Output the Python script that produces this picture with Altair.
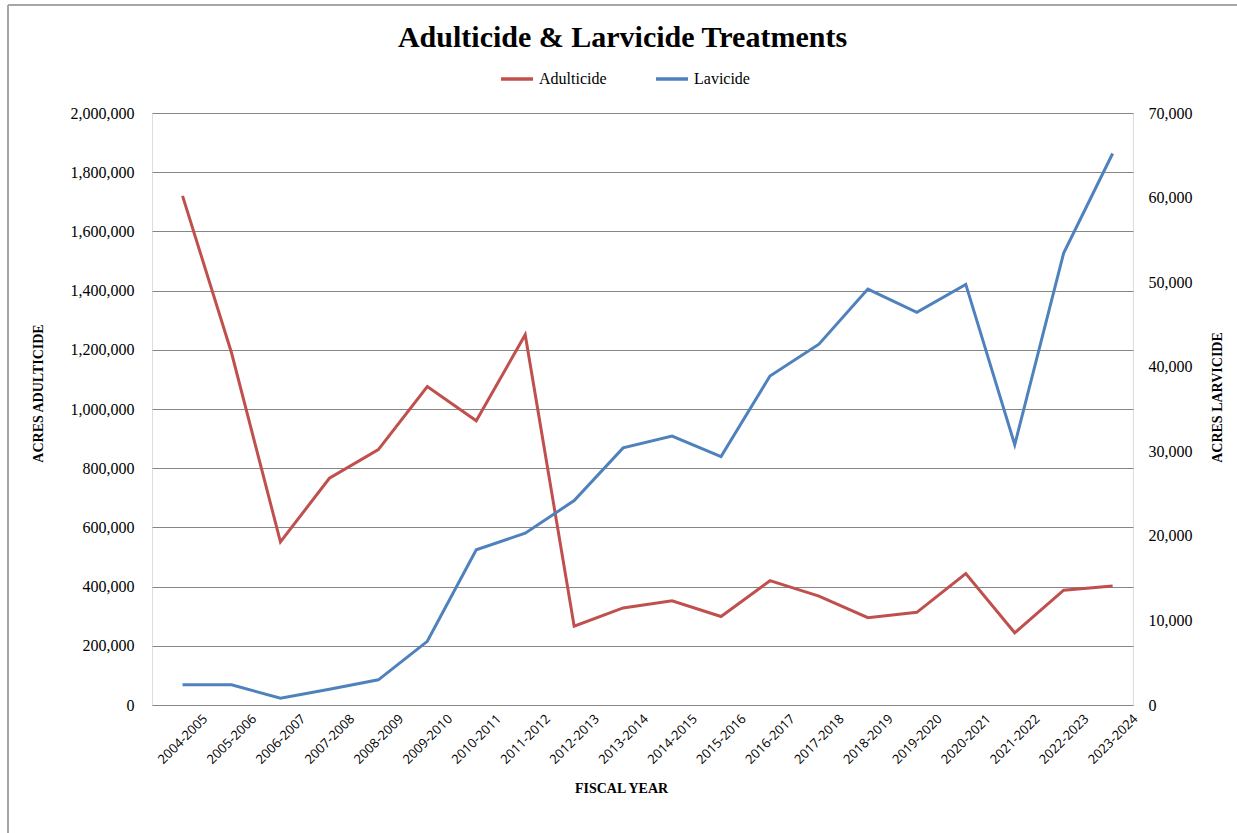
import altair as alt
import pandas as pd

# Fiscal years on the category axis
years = [
    "2004-2005", "2005-2006", "2006-2007", "2007-2008", "2008-2009",
    "2009-2010", "2010-2011", "2011-2012", "2012-2013", "2013-2014",
    "2014-2015", "2015-2016", "2016-2017", "2017-2018", "2018-2019",
    "2019-2020", "2020-2021", "2021-2022", "2022-2023", "2023-2024",
]

# Acres treated with adulticide (left axis)
adulticide = [
    1720000, 1190000, 551000, 766000, 863000,
    1076000, 960000, 1251000, 266000, 328000,
    352000, 299000, 420000, 368000, 295000,
    313000, 444000, 244000, 388000, 402000,
]

# Acres treated with larvicide (right axis)
larvicide = [
    2400, 2400, 790, 1860, 2975,
    7530, 18360, 20310, 24170, 30400,
    31790, 29380, 38900, 42670, 49180,
    46430, 49730, 30770, 53450, 65210,
]

series_names = ["Adulticide", "Lavicide"]
series_colors = ["#C0504D", "#4F81BD"]

df = pd.DataFrame({
    "year": years * 2,
    "series": [series_names[0]] * len(years) + [series_names[1]] * len(years),
    "value": adulticide + larvicide,
})

W, H = 981, 592
PAD = {"left": 152, "top": 113, "right": 104, "bottom": 128}

serif = "Liberation Serif"
GRID = "#868686"

x_enc = alt.X(
    "year:N",
    sort=years,
    scale=alt.Scale(type="point", padding=0.52, align=0.6),
    axis=alt.Axis(
        title="FISCAL YEAR",
        titleFont=serif,
        titleFontSize=14,
        titleFontWeight="bold",
        titleColor="#000000",
        titleX=469,
        titleY=83,
        titleAlign="center",
        titleBaseline="middle",
        labelFont="Open Sans",
        labelFontSize=13,
        labelColor="#000000",
        labelAngle=315,
        labelAlign="center",
        labelBaseline="middle",
        labelPadding=34,
        ticks=False,
        domain=False,
        grid=False,
    ),
)

color_enc = alt.Color(
    "series:N",
    scale=alt.Scale(domain=series_names, range=series_colors),
    legend=alt.Legend(
        title=None,
        orient="none",
        legendX=347,
        legendY=-52,
        direction="horizontal",
        columns=2,
        columnPadding=42,
        symbolType="stroke",
        symbolSize=1024,
        symbolStrokeWidth=3.5,
        labelFont=serif,
        labelFontSize=16,
        labelColor="#000000",
        labelOffset=4,
    ),
)

adult_line = (
    alt.Chart(df)
    .transform_filter(alt.datum.series == series_names[0])
    .mark_line(strokeWidth=3)
    .encode(
        x=x_enc,
        y=alt.Y(
            "value:Q",
            scale=alt.Scale(domain=[0, 2000000], nice=False),
            axis=alt.Axis(
                title="ACRES ADULTICIDE",
                titleFont=serif,
                titleFontSize=14,
                titleFontWeight="bold",
                titleColor="#000000",
                titleAngle=270,
                titleX=-114,
                titleY=280,
                titleAlign="center",
                titleBaseline="middle",
                values=list(range(0, 2000001, 200000)),
                format=",d",
                labelFont=serif,
                labelFontSize=16,
                labelColor="#000000",
                labelPadding=18,
                ticks=False,
                domain=False,
                grid=True,
                gridColor=GRID,
                gridWidth=1,
                gridOpacity=1,
            ),
        ),
        color=color_enc,
    )
)

larv_line = (
    alt.Chart(df)
    .transform_filter(alt.datum.series == series_names[1])
    .mark_line(strokeWidth=3)
    .encode(
        x=x_enc,
        y=alt.Y(
            "value:Q",
            scale=alt.Scale(domain=[0, 70000], nice=False),
            axis=alt.Axis(
                orient="right",
                title="ACRES LARVICIDE",
                titleFont=serif,
                titleFontSize=14,
                titleFontWeight="bold",
                titleColor="#000000",
                titleAngle=270,
                titleX=84,
                titleY=284,
                titleAlign="center",
                titleBaseline="middle",
                values=list(range(0, 70001, 10000)),
                format=",d",
                labelFont=serif,
                labelFontSize=16,
                labelColor="#000000",
                labelPadding=15,
                ticks=False,
                domain=False,
                grid=False,
            ),
        ),
        color=color_enc,
    )
)

# Outer chart frame along the top and left edges
frame_src = pd.DataFrame({"k": [0]})
frame_left = alt.Chart(frame_src).mark_rule(color="#A6A6A6", strokeWidth=2).encode(
    x=alt.value(-144), y=alt.value(-108), y2=alt.value(720)
)
frame_top = alt.Chart(frame_src).mark_rule(color="#A6A6A6", strokeWidth=2).encode(
    x=alt.value(-144), x2=alt.value(1085), y=alt.value(-108)
)

chart = (
    alt.layer(adult_line, larv_line, frame_left, frame_top)
    .resolve_scale(y="independent")
    .properties(
        width=W,
        height=H,
        padding=PAD,
        autosize=alt.AutoSizeParams(type="none"),
        title=alt.Title(
            "Adulticide & Larvicide Treatments",
            font=serif,
            fontSize=30,
            fontWeight="bold",
            color="#000000",
            anchor="middle",
            baseline="alphabetic",
            offset=0,
            dx=-20,
            dy=73,
        ),
    )
    .configure_view(stroke=GRID, strokeWidth=1)
    .configure(background="#FFFFFF")
)

chart.save("out.html", embed_options={"renderer": "svg", "actions": False})
